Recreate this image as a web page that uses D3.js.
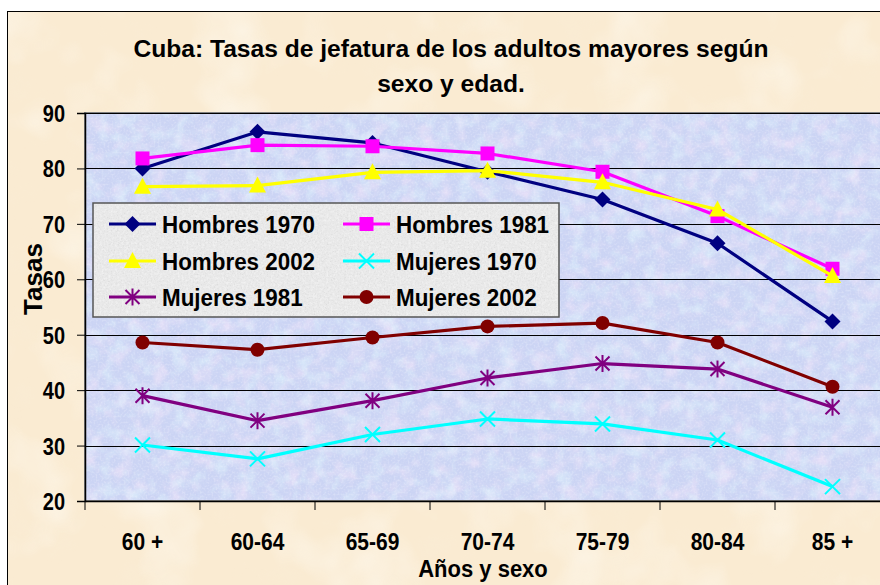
<!DOCTYPE html>
<html>
<head>
<meta charset="utf-8">
<script src="https://cdn.jsdelivr.net/npm/d3@7"></script>
<style>
  html, body { margin: 0; padding: 0; background: #fff; }
  svg { display: block; font-family: "Liberation Sans", Arial, sans-serif; font-weight: bold; }
</style>
</head>
<body>
<svg width="880" height="585"></svg>
<script>
// chart data
var categories = ["60 +", "60-64", "65-69", "70-74", "75-79", "80-84", "85 +"];
var hombres1970 = [80.0, 86.6, 84.6, 79.4, 74.4, 66.5, 52.4];
var hombres1981 = [81.8, 84.2, 84.0, 82.7, 79.4, 71.4, 61.9];
var hombres2002 = [76.7, 76.9, 79.3, 79.6, 77.5, 72.6, 60.6];
var mujeres1970 = [30.1, 27.6, 32.0, 34.8, 33.9, 31.0, 22.6];
var mujeres1981 = [39.0, 34.5, 38.1, 42.2, 44.8, 43.8, 36.9];
var mujeres2002 = [48.6, 47.3, 49.5, 51.5, 52.1, 48.6, 40.6];
var yTicks = [20, 30, 40, 50, 60, 70, 80, 90];
var titleLines = ["Cuba: Tasas de jefatura de los adultos mayores según", "sexo y edad."];

var series = [
    { name: "Hombres 1970", values: hombres1970, color: "#000080", marker: "diamond" },
    { name: "Hombres 1981", values: hombres1981, color: "#ff00ff", marker: "square" },
    { name: "Hombres 2002", values: hombres2002, color: "#ffff00", marker: "triangle" },
    { name: "Mujeres 1970", values: mujeres1970, color: "#00ffff", marker: "x" },
    { name: "Mujeres 1981", values: mujeres1981, color: "#800080", marker: "star" },
    { name: "Mujeres 2002", values: mujeres2002, color: "#800000", marker: "circle" }
];

var svg = d3.select("svg");
var plot = { left: 85, top: 113, right: 890, bottom: 501 };

var x = d3.scaleBand().domain(categories).range([plot.left, plot.right]);
var y = d3.scaleLinear().domain([20, 90]).range([plot.bottom, plot.top]);

// textures
var defs = svg.append("defs");
function noiseFilter(id, freq, octaves, seed, matrix) {
    var f = defs.append("filter").attr("id", id)
        .attr("x", 0).attr("y", 0).attr("width", "100%").attr("height", "100%");
    f.append("feTurbulence").attr("type", "fractalNoise")
        .attr("baseFrequency", freq).attr("numOctaves", octaves).attr("seed", seed);
    f.append("feColorMatrix").attr("type", "matrix").attr("values", matrix);
}
noiseFilter("paperBlotch", 0.015, 3, 4, "0 0 0 0 1  0 0 0 0 0.99  0 0 0 0 0.95  2.2 0 0 0 -1.05");
noiseFilter("paperDark", 0.025, 3, 9, "0 0 0 0 0.95  0 0 0 0 0.87  0 0 0 0 0.72  0 2 0 0 -1.1");
noiseFilter("plotPink", 0.06, 3, 2, "0 0 0 0 0.93  0 0 0 0 0.8  0 0 0 0 0.96  2.4 0 0 0 -1.1");
noiseFilter("plotCyan", 0.07, 3, 7, "0 0 0 0 0.74  0 0 0 0 0.9  0 0 0 0 0.98  0 2.4 0 0 -1.1");
noiseFilter("plotSpeck", 0.5, 2, 5, "0 0 0 0 0.92  0 0 0 0 0.93  0 0 0 0 1  1.6 0 0 0 -0.7");
noiseFilter("granite", 0.7, 2, 11, "0 0 0 0 0.6  0 0 0 0 0.6  0 0 0 0 0.6  0 2.2 0 0 -1.15");
noiseFilter("graniteLight", 0.45, 2, 13, "0 0 0 0 1  0 0 0 0 1  0 0 0 0 1  1.8 0 0 0 -0.75");

// chart area (beige paper)
var chart = { x: 7.5, y: 11.5, w: 900, h: 600 };
svg.append("rect").attr("x", chart.x).attr("y", chart.y).attr("width", chart.w).attr("height", chart.h)
    .attr("fill", "#faebd2");
["paperBlotch", "paperDark"].forEach(function (f) {
    svg.append("rect").attr("x", chart.x).attr("y", chart.y).attr("width", chart.w).attr("height", chart.h)
        .attr("filter", "url(#" + f + ")").attr("opacity", f == "paperDark" ? 0.2 : 0.5);
});
svg.append("rect").attr("x", chart.x).attr("y", chart.y).attr("width", chart.w).attr("height", chart.h)
    .attr("fill", "none").attr("stroke", "#000").attr("stroke-width", 1);

// plot area (blue mottled)
var pw = plot.right - plot.left, ph = plot.bottom - plot.top;
svg.append("rect").attr("x", plot.left).attr("y", plot.top).attr("width", pw).attr("height", ph)
    .attr("fill", "#cbd4f4");
["plotPink", "plotCyan", "plotSpeck"].forEach(function (f) {
    svg.append("rect").attr("x", plot.left).attr("y", plot.top).attr("width", pw).attr("height", ph)
        .attr("filter", "url(#" + f + ")").attr("opacity", f == "plotSpeck" ? 0.5 : 0.6);
});
svg.append("rect").attr("x", plot.left).attr("y", plot.top).attr("width", pw).attr("height", ph)
    .attr("fill", "none").attr("stroke", "#808080").attr("stroke-width", 2);

// gridlines
svg.append("g").selectAll("line").data(yTicks.slice(1)).join("line")
    .attr("x1", plot.left).attr("x2", plot.right)
    .attr("y1", function (d) { return Math.round(y(d)) + 0.5; })
    .attr("y2", function (d) { return Math.round(y(d)) + 0.5; })
    .attr("stroke", "#000").attr("stroke-width", 1);

// y axis
var yAxis = svg.append("g").attr("transform", "translate(" + plot.left + ",0)")
    .call(d3.axisLeft(y).tickValues(yTicks).tickSize(8).tickPadding(12));
yAxis.select(".domain").attr("stroke", "#000").attr("stroke-width", 1.5);
yAxis.selectAll(".tick line").attr("stroke", "#000");
yAxis.selectAll("text").attr("font-size", 20).attr("font-family", null).attr("fill", "#000")
    .attr("dy", 0).attr("transform", "translate(0,8.5) scale(1,1.2)");

// x axis
var xAxis = svg.append("g").attr("transform", "translate(0," + plot.bottom + ")")
    .call(d3.axisBottom(x).tickSize(0));
xAxis.select(".domain").attr("stroke", "#000").attr("stroke-width", 1.5);
xAxis.selectAll("text").attr("font-size", 21).attr("font-family", null).attr("fill", "#000")
    .attr("y", 0).attr("dy", 0).attr("transform", "translate(0,49) scale(1,1.1)");
svg.append("g").selectAll("line").data(categories).join("line")
    .attr("x1", function (d) { return x(d); }).attr("x2", function (d) { return x(d); })
    .attr("y1", plot.bottom).attr("y2", plot.bottom + 9)
    .attr("stroke", "#000").attr("stroke-width", 1);

// markers
function markerPath(type) {
    var p = d3.path();
    if (type == "diamond") {
        p.moveTo(0, -8); p.lineTo(8, 0); p.lineTo(0, 8); p.lineTo(-8, 0); p.closePath();
    } else if (type == "square") {
        p.rect(-7, -7, 14, 14);
    } else if (type == "triangle") {
        p.moveTo(0, -9); p.lineTo(8.5, 7); p.lineTo(-8.5, 7); p.closePath();
    } else if (type == "circle") {
        p.arc(0, 0, 7, 0, 2 * Math.PI);
    } else if (type == "x") {
        p.moveTo(-7.5, -7.5); p.lineTo(7.5, 7.5); p.moveTo(7.5, -7.5); p.lineTo(-7.5, 7.5);
    } else if (type == "star") {
        p.moveTo(-7, -7); p.lineTo(7, 7); p.moveTo(7, -7); p.lineTo(-7, 7);
        p.moveTo(0, -8.5); p.lineTo(0, 8.5);
    }
    return p.toString();
}
function drawMarker(g, s) {
    var open = s.marker == "x" || s.marker == "star";
    g.append("path").attr("d", markerPath(s.marker))
        .attr("fill", open ? "none" : s.color)
        .attr("stroke", s.color).attr("stroke-width", open ? 2 : 0);
}

var line = d3.line()
    .x(function (d, i) { return x(categories[i]) + x.bandwidth() / 2; })
    .y(function (d) { return y(d); });

series.forEach(function (s) {
    svg.append("path").datum(s.values).attr("d", line)
        .attr("fill", "none").attr("stroke", s.color).attr("stroke-width", 3.2)
        .attr("stroke-linejoin", "round");
    s.values.forEach(function (v, i) {
        var g = svg.append("g")
            .attr("transform", "translate(" + (x(categories[i]) + x.bandwidth() / 2) + "," + y(v) + ")");
        drawMarker(g, s);
    });
});

// legend
var lg = { x: 93, y: 203, w: 466, h: 114 };
svg.append("rect").attr("x", lg.x).attr("y", lg.y).attr("width", lg.w).attr("height", lg.h)
    .attr("fill", "#e8e8e8");
["granite", "graniteLight"].forEach(function (f) {
    svg.append("rect").attr("x", lg.x).attr("y", lg.y).attr("width", lg.w).attr("height", lg.h)
        .attr("filter", "url(#" + f + ")").attr("opacity", 0.55);
});
svg.append("rect").attr("x", lg.x).attr("y", lg.y).attr("width", lg.w).attr("height", lg.h)
    .attr("fill", "none").attr("stroke", "#555").attr("stroke-width", 1.5);

var colX = [109, 343], rowY = [224, 261, 297];
series.forEach(function (s, i) {
    var cx = colX[i % 2], cy = rowY[Math.floor(i / 2)];
    var g = svg.append("g").attr("transform", "translate(" + cx + "," + cy + ")");
    g.append("line").attr("x1", 0).attr("x2", 47).attr("y1", 0).attr("y2", 0)
        .attr("stroke", s.color).attr("stroke-width", 3.2);
    drawMarker(g.append("g").attr("transform", "translate(23.5,0)"), s);
    g.append("text").attr("transform", "translate(53,8.5) scale(1,1.05)")
        .attr("font-size", 22.4).attr("fill", "#000").text(s.name);
});

// title and axis titles
svg.append("g").selectAll("text").data(titleLines).join("text")
    .attr("x", 451).attr("y", function (d, i) { return 57 + i * 35; })
    .attr("text-anchor", "middle").attr("font-size", 24.6).attr("fill", "#000")
    .text(function (d) { return d; });

svg.append("text").attr("transform", "translate(483,577) scale(1,1.05)").attr("text-anchor", "middle")
    .attr("font-size", 22).attr("fill", "#000").text("Años y sexo");

svg.append("text").attr("transform", "translate(42,279) rotate(-90)")
    .attr("text-anchor", "middle").attr("font-size", 26).attr("fill", "#000").text("Tasas");
</script>
</body>
</html>
